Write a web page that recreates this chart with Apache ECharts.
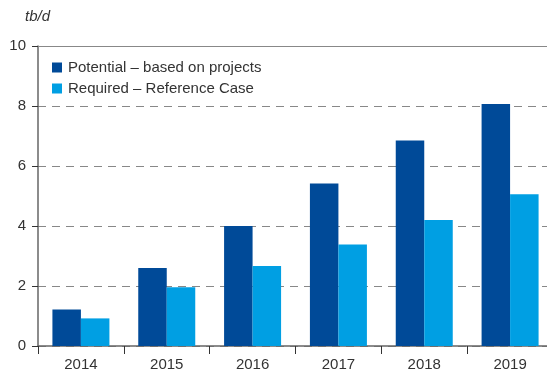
<!DOCTYPE html>
<html>
<head>
<meta charset="utf-8">
<script src="https://cdn.jsdelivr.net/npm/echarts@6/dist/echarts.min.js"></script>
<style>
html,body{margin:0;padding:0;background:#fff;}
#chart{width:547px;height:373px;}
</style>
</head>
<body>
<div id="chart"></div>
<script>
// Years on the category axis
const years = ['2014', '2015', '2016', '2017', '2018', '2019'];
// Capacity from planned projects (tb/d)
const potential = [1.22, 2.6, 4.0, 5.42, 6.85, 8.07];
// Capacity needed under the Reference Case (tb/d)
const required = [0.92, 1.96, 2.67, 3.38, 4.2, 5.06];
// Value-axis ticks
const yTicks = [0, 2, 4, 6, 8, 10];

const FONT = 'Liberation Sans, Arial, sans-serif';
const chart = echarts.init(document.getElementById('chart'), null, {renderer: 'canvas'});

chart.setOption({
  animation: false,
  textStyle: {fontFamily: FONT},
  title: {
    text: 'tb/d', left: 20, top: 9, padding: [0, 5],
    textStyle: {fontFamily: FONT, fontSize: 15, fontStyle: 'italic', fontWeight: 'normal', color: '#333'}
  },
  legend: {
    orient: 'vertical', left: 52, top: 60, padding: 0,
    itemWidth: 10, itemHeight: 10, itemGap: 6,
    icon: 'rect',
    textStyle: {fontFamily: FONT, fontSize: 15, color: '#333', padding: [0, 0, 0, 1]},
    data: ['Potential – based on projects', 'Required – Reference Case']
  },
  // the last category runs a few pixels past the right edge of the canvas
  grid: {left: 38, top: 46, right: -6, height: 300, containLabel: false, outerBoundsMode: 'none'},
  xAxis: {
    type: 'category', data: years,
    axisLine: {lineStyle: {color: '#666', width: 1.5}},
    axisTick: {show: true, alignWithLabel: false, length: 8, lineStyle: {color: '#333'}},
    axisLabel: {fontFamily: FONT, fontSize: 15, color: '#333', margin: 11}
  },
  yAxis: {
    type: 'value', min: yTicks[0], max: yTicks[yTicks.length - 1], interval: 2,
    axisLine: {show: true, lineStyle: {color: '#666', width: 1.5}},
    axisTick: {show: true, length: 6, lineStyle: {color: '#333'}},
    axisLabel: {fontFamily: FONT, fontSize: 15, color: '#333', margin: 12},
    splitLine: {show: true, lineStyle: {color: '#888', type: [8, 6], width: 1}}
  },
  series: [
    {
      name: 'Potential – based on projects', type: 'bar', data: potential,
      barWidth: 28.5, barGap: '0%',
      itemStyle: {color: '#004A98'},
      markLine: {
        silent: true, symbol: 'none', label: {show: false},
        lineStyle: {color: '#888', type: 'solid', width: 1.2},
        data: [{yAxis: 10}]
      }
    },
    {
      name: 'Required – Reference Case', type: 'bar', data: required,
      barWidth: 28.5, barGap: '0%',
      itemStyle: {color: '#009FE3'}
    }
  ]
});
</script>
</body>
</html>
